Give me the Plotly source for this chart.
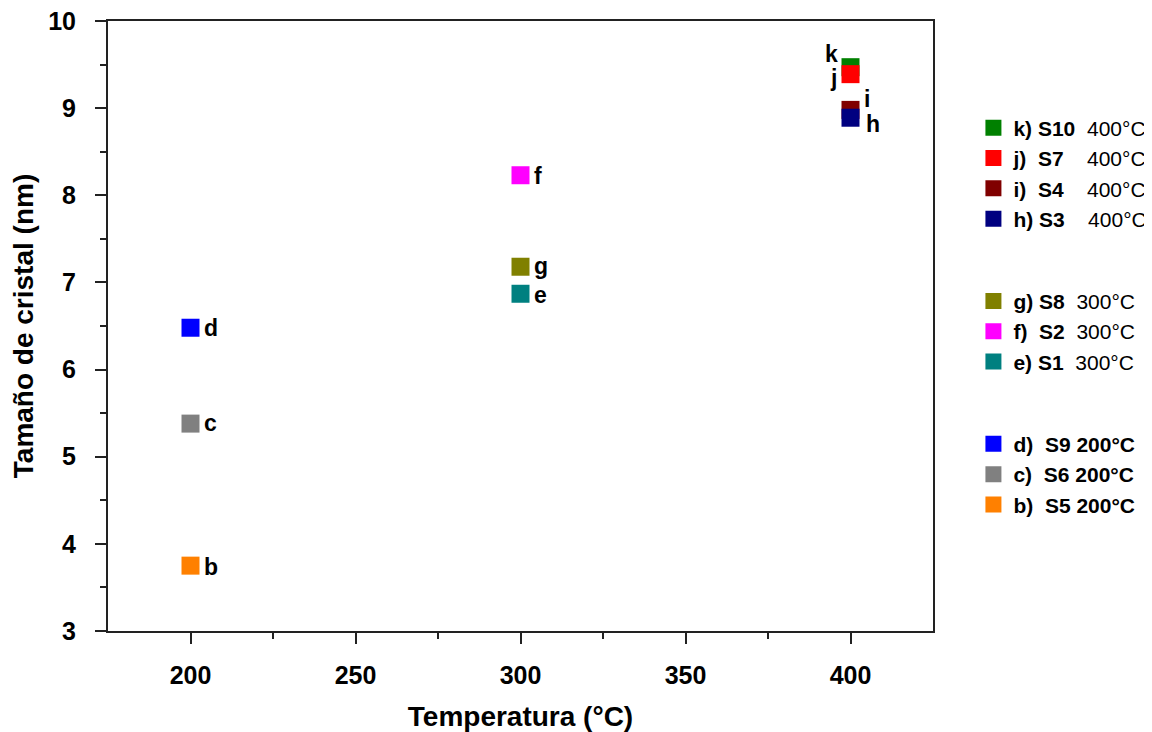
import plotly.graph_objects as go

# Data
letters = ["k", "j", "i", "h", "g", "f", "e", "d", "c", "b"]
samples = ["S10", "S7", "S4", "S3", "S8", "S2", "S1", "S9", "S6", "S5"]
temperatures = [400, 400, 400, 400, 300, 300, 300, 200, 200, 200]
crystal_size = [9.47, 9.39, 8.98, 8.89, 7.18, 8.23, 6.87, 6.48, 5.38, 3.75]
colors = ["#008000", "#ff0000", "#800000", "#000080", "#808000",
          "#ff00ff", "#008080", "#0000ff", "#808080", "#ff8000"]
x_ticks = [200, 250, 300, 350, 400]
y_ticks = [3, 4, 5, 6, 7, 8, 9, 10]

# label offsets (px) relative to each marker: (xshift, yshift, xanchor)
label_pos = {
    "k": (-11, 13, "right"), "j": (-12, -4, "right"),
    "i": (11, 11, "left"), "h": (13, -6, "left"),
    "g": (11, 1, "left"), "f": (11, -1, "left"), "e": (11, -1, "left"),
    "d": (11, 0, "left"), "c": (11, 1, "left"), "b": (11, -1, "left"),
}

NB = "\u00a0"
legend_names = {
    "k": f"<b>k){NB}S10</b>{NB*2}400°C",
    "j": f"<b>j){NB}{NB}S7</b>{NB*4}400°C",
    "i": f"<b>i){NB}{NB}S4</b>{NB*4}400°C",
    "h": f"<b>h){NB}S3</b>{NB*4}400°C",
    "g": f"<b>g){NB}S8</b>{NB*2}300°C",
    "f": f"<b>f){NB}{NB}S2</b>{NB*2}300°C",
    "e": f"<b>e){NB}S1</b>{NB*2}300°C",
    "d": f"<b>d){NB}{NB}S9{NB}200°C</b>",
    "c": f"<b>c){NB}{NB}S6{NB}200°C</b>",
    "b": f"<b>b){NB}{NB}S5{NB}200°C</b>",
}

fig = go.Figure()
annotations = []
for L, s, t, v, c in zip(letters, samples, temperatures, crystal_size, colors):
    fig.add_trace(go.Scatter(
        x=[t], y=[v], mode="markers",
        marker=dict(symbol="square", size=18, color=c, line=dict(width=0)),
        name=legend_names[L], legendgroup=str(t),
    ))
    xs, ys, xa = label_pos[L]
    annotations.append(dict(
        x=t, y=v, xref="x", yref="y", text=f"<b>{L}</b>", showarrow=False,
        xanchor=xa, yanchor="middle", xshift=xs, yshift=ys,
        font=dict(family="Liberation Sans, Arial, sans-serif", size=23, color="black"),
    ))

axis_font = dict(family="Liberation Sans, Arial, sans-serif", size=25, color="black")
title_font = dict(family="Liberation Sans, Arial, sans-serif", size=28, color="black")

# the page body adds an 8px offset, so the figure is 8px smaller and margins shifted
fig.update_layout(
    width=1144, height=724,
    margin=dict(l=100, r=219, t=13, b=101, autoexpand=False),
    plot_bgcolor="white", paper_bgcolor="white",
    annotations=annotations,
    showlegend=True,
    legend=dict(
        x=1.049, xanchor="left",
        y=0.858, yanchor="top",
        traceorder="grouped", tracegroupgap=52,
        font=dict(family="Liberation Sans, Arial, sans-serif", size=21, color="black"),
        bgcolor="rgba(0,0,0,0)", itemsizing="trace",
    ),
    xaxis=dict(
        range=[175, 425], tickvals=x_ticks, ticktext=[f"<b>{v}</b>" for v in x_ticks],
        showgrid=False, zeroline=False, automargin=False,
        showline=True, linecolor="#222", linewidth=2, mirror=True,
        ticks="outside", ticklen=11, tickwidth=2, tickcolor="#222",
        minor=dict(tickvals=[225, 275, 325, 375], ticks="outside", ticklen=6, tickwidth=2, tickcolor="#222"),
        tickfont=axis_font, ticklabelstandoff=10, ticklabeloverflow="allow",
        title=dict(text="<b>Temperatura (°C)</b>", font=title_font, standoff=20),
    ),
    yaxis=dict(
        range=[3, 10], tickvals=y_ticks, ticktext=[f"<b>{v}</b>" for v in y_ticks],
        showgrid=False, zeroline=False, automargin=False,
        showline=True, linecolor="#222", linewidth=2, mirror=True,
        ticks="outside", ticklen=11, tickwidth=2, tickcolor="#222",
        minor=dict(tickvals=[3.5, 4.5, 5.5, 6.5, 7.5, 8.5, 9.5], ticks="outside", ticklen=6, tickwidth=2, tickcolor="#222"),
        tickfont=axis_font, ticklabelstandoff=14, ticklabeloverflow="allow",
        title=dict(text="<b>Tamaño de cristal (nm)</b>", font=title_font, standoff=16),
    ),
)

fig.write_html("out.html")
